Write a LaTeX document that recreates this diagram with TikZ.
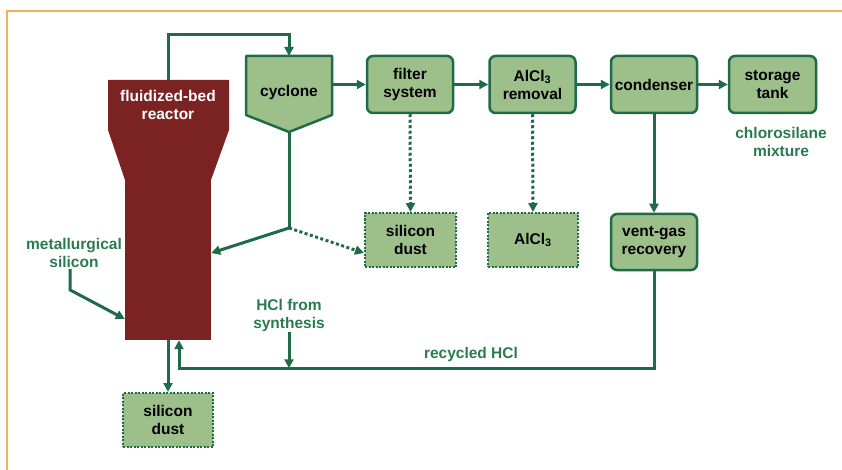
\documentclass[tikz,border=0pt]{standalone}
\usepackage{fontspec}
\setmainfont{Liberation Sans}
\usepackage{xcolor}
\definecolor{BoxGreen}{HTML}{9DC08B}
\definecolor{LineGreen}{HTML}{1E6B47}
\definecolor{LabelGreen}{HTML}{2A7A50}
\definecolor{ReactorRed}{HTML}{7B2323}
\definecolor{FrameOrange}{HTML}{F5B055}
\usepackage{tikz}
\usetikzlibrary{calc,positioning,arrows.meta}

\begin{document}
\begin{tikzpicture}[x=1pt, y=-1pt,
        unitbox/.style={draw=LineGreen, line width=2.5pt, fill=BoxGreen, rounded corners=6pt, minimum width=86pt, minimum height=57pt, inner sep=0pt, align=center, font=\fontsize{15.5}{18}\selectfont\bfseries},
        dustbox/.style={unitbox, rounded corners=0pt, line width=2pt, dash pattern=on 2pt off 1.5pt, minimum width=90pt, minimum height=54pt},
        flowlabel/.style={text=LabelGreen, align=center, inner sep=1pt, font=\fontsize{15.5}{18}\selectfont\bfseries},
        flow/.style={draw=LineGreen, line width=3pt, -{Triangle[length=9pt,width=9pt]}},
        dotflow/.style={flow, dash pattern=on 3pt off 2.5pt}]
        \useasboundingbox (0,0) rectangle (842,470);
        \draw[FrameOrange, line width=1.2pt] (842,11) -- (7,11) -- (7,470);

        % reactor
        \fill[ReactorRed] (108,80) coordinate (reactortop) -- (229,80) -- (229,130) -- (211,180) -- (125,180) -- (108,130) -- cycle;
        \node[fill=ReactorRed, minimum width=86pt, minimum height=162pt, inner sep=0pt] (reactor) at (168,259) {};
        \node[flowlabel, text=white] (reactorname) at (168,105) {fluidized-bed\\reactor};

        % cyclone
        \draw[LineGreen, line width=2.5pt, fill=BoxGreen, line join=round] (246,56) -- (332,56) coordinate (cycne) -- (332,115) -- (289,132) coordinate (cyctip) -- (246,115) -- cycle;
        \node[flowlabel, text=black] (cyclone) at (289,92) {cyclone};
        \coordinate (cyctop) at (289,56);

        \node[unitbox] (filter) at (410,84.5) {filter\\system};
        \node[unitbox] (alremoval) at (532.5,84.5) {AlCl\textsubscript{3}\\removal};
        \node[unitbox] (condenser) at (654,84.5) {condenser};
        \node[unitbox, minimum width=87pt] (storage) at (772.5,84.5) {storage\\tank};
        \node[flowlabel] (mixture) at (781,142) {chlorosilane\\mixture};

        \node[dustbox, minimum width=91pt] (dustfilter) at (410.5,240) {silicon\\dust};
        \node[dustbox] (alcl) at (533,240) {AlCl\textsubscript{3}};
        \node[unitbox, minimum height=56pt] (vent) at (654,242) {vent-gas\\recovery};
        \node[dustbox] (dustreactor) at (168,420) {silicon\\dust};

        \node[flowlabel] (metal) at (74,253) {metallurgical\\silicon};
        \node[flowlabel] (hclsyn) at (289,315) {HCl from\\synthesis};
        \node[flowlabel] (recycled) at (471,354) {recycled HCl};

        \draw[flow] ($(reactortop)+(60,0)$) |- (cyctop |- 0,35) -- (cyctop);
        \draw[flow] (cycne |- filter.west) -- (filter.west);
        \draw[flow] (filter) -- (alremoval);
        \draw[flow] (alremoval) -- (condenser);
        \draw[flow] (condenser) -- (storage);
        \draw[dotflow] (filter.south) -- (dustfilter.north);
        \draw[dotflow] (alremoval.south) -- (alcl.north);
        \draw[flow] (condenser.south) -- (vent.north);

        \coordinate (split) at ($(cyctip)+(0,96)$);
        \draw[LineGreen, line width=3pt] (cyctip) -- (split);
        \draw[flow] (split) -- ($(reactor.east)+(0,-6)$);
        \draw[dotflow] (split) -- ($(dustfilter.west)+(0,13)$);

        \draw[flow] ([xshift=-4pt]metal.south) -- ++(0,21) -- ($(reactor.west)+(0,60)$);
        \draw[flow] (reactor.south) -- (dustreactor.north);
        \draw[flow] (vent.south) -- ++(0,97) -| ($(reactor.south)+(11,0)$);
        \draw[flow] (hclsyn.south) -- ($(hclsyn.south |- vent.south)+(0,97)$);
\end{tikzpicture}
\end{document}
